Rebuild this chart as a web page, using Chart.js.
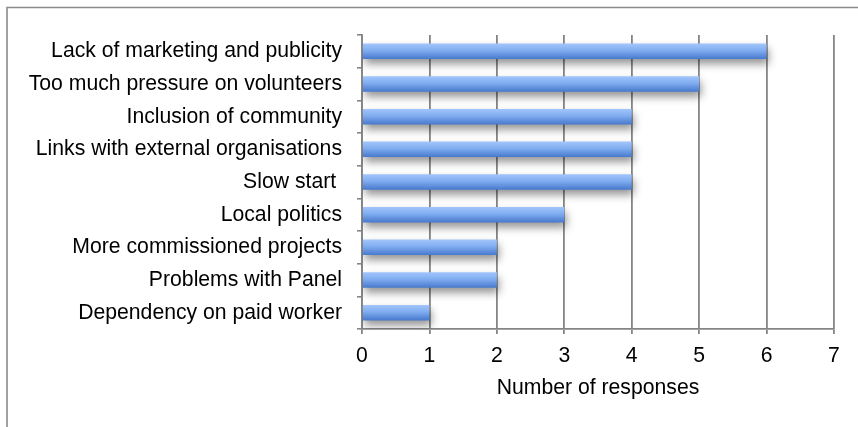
<!DOCTYPE html>
<html>
<head>
<meta charset="utf-8">
<script src="https://cdn.jsdelivr.net/npm/chart.js@4/dist/chart.umd.min.js"></script>
<style>
  html, body { margin: 0; padding: 0; background: #fff; }
  #wrap { width: 858px; height: 427px; position: relative; }
</style>
</head>
<body>
<div id="wrap"><canvas id="c" width="858" height="427"></canvas></div>
<script>
// Issues raised by respondents, most frequent first
const categories = [
  'Lack of marketing and publicity',
  'Too much pressure on volunteers',
  'Inclusion of community',
  'Links with external organisations',
  'Slow start ',
  'Local politics',
  'More commissioned projects',
  'Problems with Panel',
  'Dependency on paid worker'
];
const responses = [6, 5, 4, 4, 4, 3, 2, 2, 1];
const xTicks = [0, 1, 2, 3, 4, 5, 6, 7];
const xTitle = 'Number of responses';

const FONT = '"Liberation Sans", Arial, sans-serif';
const GRID = '#858585';
const BAR_PCT = 0.475;

// Outer frame of the chart box
const framePlugin = {
  id: 'frame',
  beforeDraw(chart) {
    const c = chart.ctx;
    c.save();
    c.fillStyle = '#fff';
    c.fillRect(0, 0, chart.width, chart.height);
    c.strokeStyle = '#8a8a8a';
    c.lineWidth = 1.6;
    c.beginPath();
    c.moveTo(7, chart.height);
    c.lineTo(7, 7.5);
    c.lineTo(chart.width, 7.5);
    c.stroke();
    c.restore();
  }
};

// Soft drop shadow under the bars
const shadowPlugin = {
  id: 'barShadow',
  beforeDatasetsDraw(chart) {
    const c = chart.ctx;
    c.save();
    c.shadowColor = 'rgba(0,0,0,0.42)';
    c.shadowBlur = 8;
    c.shadowOffsetX = 2;
    c.shadowOffsetY = 5;
  },
  afterDatasetsDraw(chart) {
    chart.ctx.restore();
  }
};

// Vertical blue gradient for each bar
function barGradient(ctx) {
  const chart = ctx.chart;
  const y = chart.scales && chart.scales.y;
  if (!y || ctx.type !== 'data' || !isFinite(y.height) || y.height <= 0) return '#7aa8ec';
  const centre = y.getPixelForValue(ctx.dataIndex);
  const half = (y.height / categories.length) * BAR_PCT / 2;
  const g = chart.ctx.createLinearGradient(0, centre - half, 0, centre + half);
  g.addColorStop(0, '#a2c6fb');
  g.addColorStop(0.45, '#80acf0');
  g.addColorStop(1, '#4679cd');
  return g;
}

new Chart(document.getElementById('c'), {
  type: 'bar',
  data: {
    labels: categories,
    datasets: [{
      data: responses,
      backgroundColor: barGradient,
      borderWidth: 0,
      barPercentage: BAR_PCT,
      categoryPercentage: 1
    }]
  },
  options: {
    indexAxis: 'y',
    responsive: false,
    animation: false,
    events: [],
    layout: { padding: { left: 0, right: 24, top: 35, bottom: 0 } },
    plugins: {
      legend: { display: false },
      tooltip: { enabled: false },
      title: { display: false }
    },
    scales: {
      x: {
        min: 0,
        max: 7,
        afterBuildTicks(scale) { scale.ticks = xTicks.map(v => ({ value: v })); },
        afterFit(scale) { scale.height = 98; },
        grid: {
          color: GRID,
          lineWidth: 1.8,
          drawTicks: true,
          tickLength: 5,
          tickColor: GRID
        },
        border: { display: true, color: GRID, width: 1.8 },
        ticks: {
          color: '#000',
          font: { family: FONT, size: 21.2 },
          padding: 9,
          maxRotation: 0
        },
        title: {
          display: true,
          text: xTitle,
          color: '#000',
          font: { family: FONT, size: 21.2 },
          padding: { top: 0, bottom: 26 }
        }
      },
      y: {
        afterFit(scale) { scale.width = 362; },
        grid: {
          drawOnChartArea: false,
          drawTicks: true,
          tickLength: 5,
          tickColor: GRID,
          lineWidth: 1.6,
          offset: true
        },
        border: { display: true, color: GRID, width: 1.8 },
        ticks: {
          color: '#000',
          font: { family: FONT, size: 21.2 },
          padding: 15,
          autoSkip: false
        }
      }
    }
  },
  plugins: [framePlugin, shadowPlugin]
});
</script>
</body>
</html>
